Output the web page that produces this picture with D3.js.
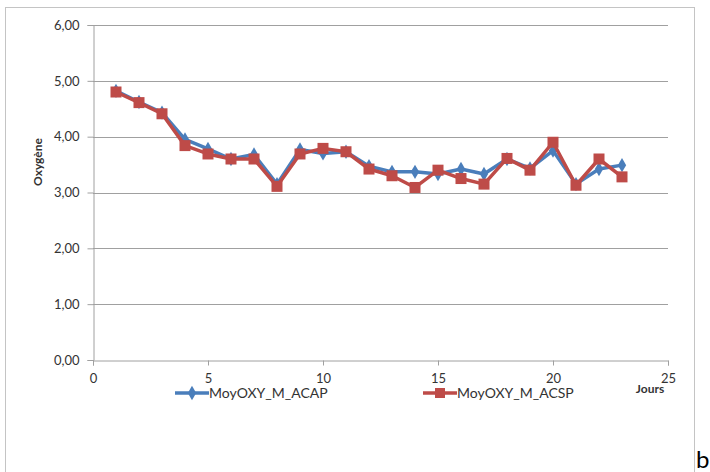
<!DOCTYPE html>
<html>
<head>
<meta charset="utf-8">
<script src="https://cdn.jsdelivr.net/npm/d3@7"></script>
<style>
  html, body { margin: 0; padding: 0; background: #fff; }
  svg { display: block; }
  text { font-family: Lato, "Open Sans", sans-serif; }
</style>
</head>
<body>
<svg id="chart" width="710" height="472"></svg>
<script>
// Daily mean oxygen for the two treatments
const jours = [1, 2, 3, 4, 5, 6, 7, 8, 9, 10, 11, 12, 13, 14, 15, 16, 17, 18, 19, 20, 21, 22, 23];
const moyACAP = [4.82, 4.62, 4.43, 3.95, 3.78, 3.60, 3.68, 3.15, 3.77, 3.70, 3.73, 3.47, 3.37, 3.37, 3.33, 3.42, 3.33, 3.60, 3.43, 3.75, 3.15, 3.42, 3.49];
const moyACSP = [4.80, 4.61, 4.41, 3.84, 3.69, 3.60, 3.60, 3.11, 3.69, 3.79, 3.73, 3.42, 3.30, 3.09, 3.40, 3.25, 3.15, 3.61, 3.40, 3.90, 3.13, 3.60, 3.28];
const yTicks = [0, 1, 2, 3, 4, 5, 6];
const xTicks = [0, 5, 10, 15, 20, 25];
const seriesNames = ["MoyOXY_M_ACAP", "MoyOXY_M_ACSP"];

const svg = d3.select("#chart");

// Chart frame
svg.append("rect")
  .attr("x", 5.5).attr("y", 7.5)
  .attr("width", 689).attr("height", 480)
  .attr("fill", "none").attr("stroke", "#c4c4c4").attr("stroke-width", 1);

const x = d3.scaleLinear().domain([0, 25]).range([93, 668]);
const y = d3.scaleLinear().domain([0, 6]).range([360, 25]);
const fmt = v => d3.format(".2f")(v).replace(".", ",");

// Horizontal gridlines
svg.append("g")
  .selectAll("line")
  .data(yTicks.filter(v => v > 0))
  .join("line")
  .attr("x1", x(0)).attr("x2", x(25))
  .attr("y1", d => Math.round(y(d)) + 0.5).attr("y2", d => Math.round(y(d)) + 0.5)
  .attr("stroke", "#a0a0a0").attr("stroke-width", 1);

// Y axis
const yAxis = svg.append("g")
  .attr("transform", `translate(${x(0) + 0.5},0)`)
  .call(d3.axisLeft(y).tickValues(yTicks).tickFormat(fmt).tickSize(6).tickPadding(8));
yAxis.select(".domain").attr("stroke", "#a0a0a0");
yAxis.selectAll(".tick line").attr("stroke", "#a0a0a0");
yAxis.selectAll(".tick text")
  .attr("font-family", "Lato, sans-serif")
  .attr("font-size", 13).attr("fill", "#333");

// X axis
const xAxis = svg.append("g")
  .attr("transform", `translate(0,${Math.round(y(0)) + 0.5})`)
  .call(d3.axisBottom(x).tickValues(xTicks).tickFormat(d3.format("d")).tickSize(5).tickPadding(8));
xAxis.select(".domain").attr("stroke", "#a0a0a0");
xAxis.selectAll(".tick line").attr("stroke", "#a0a0a0");
xAxis.selectAll(".tick text")
  .attr("font-family", "Lato, sans-serif")
  .attr("font-size", 13).attr("fill", "#333");

// Axis titles
svg.append("text")
  .attr("transform", `translate(42,162) rotate(-90)`)
  .attr("text-anchor", "middle")
  .attr("font-size", 12).attr("font-weight", "bold").attr("fill", "#333")
  .text("Oxygène");

svg.append("text")
  .attr("x", 650).attr("y", 393)
  .attr("text-anchor", "middle")
  .attr("font-size", 12).attr("font-weight", "bold").attr("fill", "#333")
  .text("Jours");

const line = d3.line().x(d => x(d[0])).y(d => y(d[1]));
const blue = "#4a7ebb", red = "#be4b48";
const ptsA = jours.map((j, i) => [j, moyACAP[i]]);
const ptsS = jours.map((j, i) => [j, moyACSP[i]]);

// Series ACAP (diamonds)
svg.append("path").datum(ptsA)
  .attr("d", line).attr("fill", "none")
  .attr("stroke", blue).attr("stroke-width", 3.5).attr("stroke-linejoin", "round");
svg.append("g").selectAll("path").data(ptsA).join("path")
  .attr("d", d3.symbol(d3.symbolDiamond, 60))
  .attr("transform", d => `translate(${x(d[0])},${y(d[1])})`)
  .attr("fill", blue);

// Series ACSP (squares)
svg.append("path").datum(ptsS)
  .attr("d", line).attr("fill", "none")
  .attr("stroke", red).attr("stroke-width", 3.5).attr("stroke-linejoin", "round");
svg.append("g").selectAll("rect").data(ptsS).join("rect")
  .attr("x", d => x(d[0]) - 5.5).attr("y", d => y(d[1]) - 5.5)
  .attr("width", 11).attr("height", 11)
  .attr("fill", red);

// Legend
const legend = [
  { name: seriesNames[0], color: blue, x0: 175, shape: "diamond" },
  { name: seriesNames[1], color: red, x0: 423, shape: "square" }
];
const lg = svg.append("g").selectAll("g").data(legend).join("g")
  .attr("transform", d => `translate(${d.x0},393)`);
lg.append("line")
  .attr("x1", 0).attr("x2", 34).attr("y1", 0).attr("y2", 0)
  .attr("stroke", d => d.color).attr("stroke-width", 3.5);
lg.append("path")
  .attr("d", d => d.shape === "diamond" ? d3.symbol(d3.symbolDiamond, 60)() : d3.symbol(d3.symbolSquare, 100)())
  .attr("transform", "translate(17,0)")
  .attr("fill", d => d.color);
lg.append("text")
  .attr("x", 34).attr("y", 5)
  .attr("font-size", 14).attr("fill", "#333")
  .text(d => d.name);

// Panel letter
svg.append("text")
  .attr("x", 696).attr("y", 468)
  .attr("font-family", "'Liberation Serif', serif")
  .attr("font-size", 24).attr("fill", "#000")
  .text("b");
</script>
</body>
</html>
